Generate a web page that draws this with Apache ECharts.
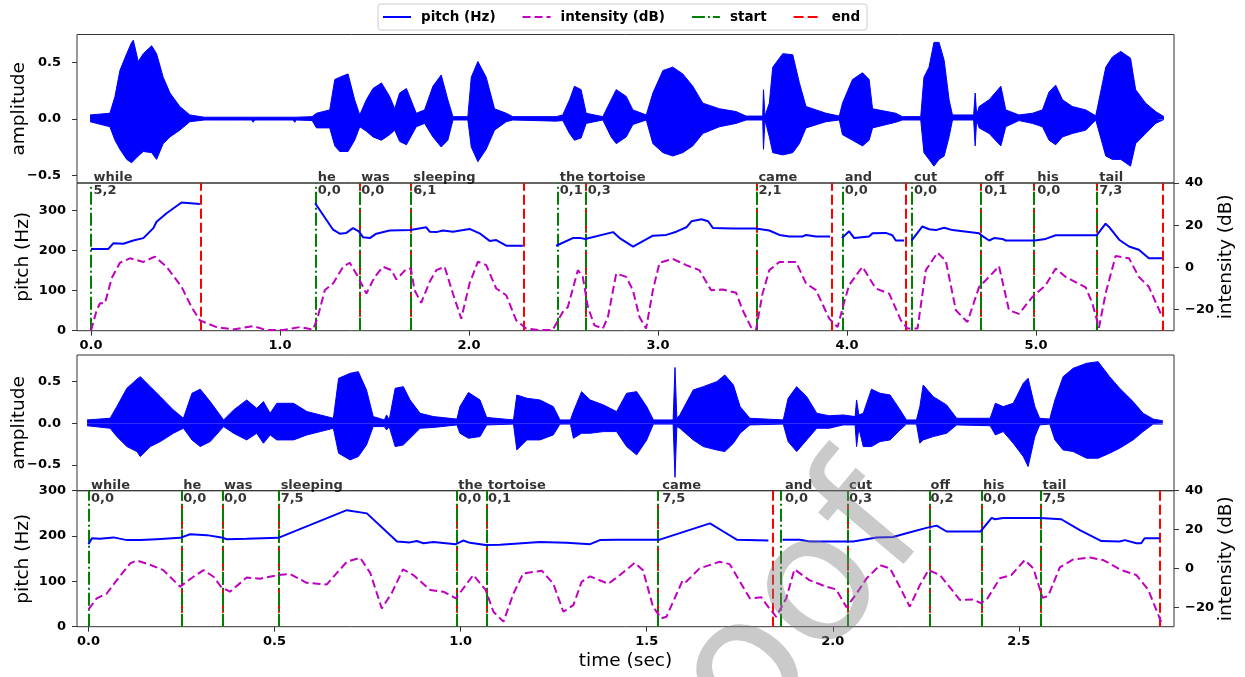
<!DOCTYPE html>
<html><head><meta charset="utf-8">
<script src="https://cdn.jsdelivr.net/npm/echarts@6/dist/echarts.min.js"></script>
<style>html,body{margin:0;padding:0;background:#fff}#c{width:1245px;height:677px}</style>
</head><body><div id="c"></div>
<script>
// ---------- DATA ----------
const words = ['while','he','was','sleeping','the','tortoise','came','and','cut','off','his','tail'];
const starts1 = [0.0,1.186,1.417,1.692,2.467,2.615,3.518,3.975,4.341,4.713,4.993,5.321];
const ends1 = [0.578,1.417,1.692,2.29,2.615,3.518,3.916,4.306,4.713,4.993,5.321,5.668];
const scores1 = ['5,2','0,0','0,0','6,1','0,1','0,3','2,1','0,0','0,0','0,1','0,0','7,3'];
const starts2 = [0.0,0.248,0.357,0.5095,0.987,1.067,1.535,1.865,2.037,2.256,2.397,2.557];
const ends2 = [0.248,0.357,0.5095,0.987,1.067,1.535,1.837,2.037,2.256,2.397,2.557,2.885];
const scores2 = ['0,0','0,0','0,0','7,5','0,0','0,1','7,5','0,0','0,3','0,2','0,0','7,5'];

const xTicks1 = [0,1,2,3,4,5];
const xTicks2 = [0,0.5,1,1.5,2,2.5];
const ampTicks = [-0.5,0,0.5];
const pitchTicks1 = [0,100,200,300];
const pitchTicks2 = [0,100,200,300];
const dbTicks = [-20,0,20,40];

// waveform envelopes [time, upper, lower]
const wave1 = [[-0.005,0.035,-0.025],[0.1,0.05,-0.07],[0.127,0.2,-0.19],[0.153,0.43,-0.27],[0.189,0.58,-0.36],[0.215,0.68,-0.39],[0.224,0.70,-0.38],[0.25,0.51,-0.33],[0.277,0.58,-0.29],[0.321,0.65,-0.30],[0.347,0.58,-0.36],[0.382,0.37,-0.22],[0.418,0.23,-0.16],[0.47,0.11,-0.10],[0.523,0.035,-0.025],[0.6,0.015,-0.01],[0.85,0.015,-0.01],[0.858,0.03,-0.03],[0.866,0.015,-0.01],[1.07,0.015,-0.01],[1.078,0.03,-0.03],[1.086,0.015,-0.01],[1.17,0.02,-0.015],[1.193,0.05,-0.08],[1.263,0.08,-0.08],[1.29,0.35,-0.24],[1.316,0.37,-0.29],[1.36,0.40,-0.29],[1.395,0.17,-0.19],[1.422,0.035,-0.07],[1.457,0.17,-0.11],[1.492,0.27,-0.16],[1.537,0.32,-0.19],[1.58,0.2,-0.14],[1.607,0.09,-0.10],[1.633,0.23,-0.2],[1.669,0.27,-0.23],[1.721,0.05,-0.07],[1.765,0.08,-0.04],[1.809,0.29,-0.16],[1.853,0.39,-0.25],[1.888,0.17,-0.19],[1.915,0.02,-0.01],[1.994,0.02,-0.01],[2.012,0.37,-0.25],[2.047,0.51,-0.38],[2.091,0.37,-0.27],[2.135,0.09,-0.10],[2.197,0.05,-0.025],[2.232,0.02,-0.01],[2.461,0.02,-0.02],[2.496,0.035,-0.015],[2.532,0.17,-0.13],[2.558,0.29,-0.19],[2.593,0.26,-0.17],[2.62,0.05,-0.04],[2.708,0.02,-0.01],[2.752,0.17,-0.16],[2.779,0.26,-0.22],[2.832,0.2,-0.16],[2.867,0.08,-0.05],[2.938,0.035,-0.01],[2.973,0.23,-0.22],[3.026,0.43,-0.30],[3.078,0.46,-0.33],[3.131,0.40,-0.30],[3.184,0.29,-0.24],[3.237,0.14,-0.13],[3.325,0.09,-0.07],[3.413,0.065,-0.04],[3.466,0.025,-0.01],[3.554,0.025,-0.01],[3.558,0.26,-0.27],[3.566,0.025,-0.01],[3.589,0.14,-0.16],[3.607,0.46,-0.30],[3.66,0.58,-0.32],[3.713,0.57,-0.30],[3.748,0.32,-0.22],[3.783,0.11,-0.08],[3.889,0.05,-0.025],[3.959,0.025,-0.01],[3.976,0.14,-0.14],[4.029,0.35,-0.19],[4.082,0.41,-0.24],[4.117,0.35,-0.19],[4.135,0.09,-0.08],[4.258,0.05,-0.03],[4.293,0.02,-0.01],[4.39,0.02,-0.01],[4.407,0.37,-0.30],[4.434,0.46,-0.36],[4.46,0.68,-0.42],[4.487,0.68,-0.36],[4.514,0.52,-0.33],[4.54,0.17,-0.16],[4.558,0.035,-0.01],[4.67,0.035,-0.01],[4.678,0.23,-0.24],[4.686,0.035,-0.01],[4.699,0.11,-0.08],[4.752,0.17,-0.13],[4.814,0.29,-0.24],[4.84,0.08,-0.07],[4.91,0.035,-0.015],[4.981,0.05,-0.04],[5.034,0.08,-0.07],[5.069,0.24,-0.19],[5.104,0.30,-0.23],[5.14,0.17,-0.16],[5.192,0.11,-0.13],[5.263,0.08,-0.10],[5.316,0.027,-0.01],[5.369,0.46,-0.33],[5.404,0.55,-0.36],[5.448,0.60,-0.36],[5.5,0.54,-0.42],[5.527,0.26,-0.22],[5.58,0.14,-0.13],[5.633,0.065,-0.04],[5.677,0.02,-0.005]];

const wave2 = [[-0.004,0.04,-0.03],[0.058,0.06,-0.06],[0.076,0.2,-0.16],[0.103,0.42,-0.28],[0.13,0.53,-0.34],[0.139,0.56,-0.40],[0.166,0.44,-0.28],[0.193,0.32,-0.22],[0.228,0.16,-0.12],[0.255,0.06,-0.06],[0.278,0.36,-0.2],[0.3,0.41,-0.28],[0.327,0.26,-0.22],[0.363,0.04,-0.04],[0.39,0.16,-0.12],[0.425,0.28,-0.2],[0.452,0.18,-0.12],[0.47,0.26,-0.24],[0.488,0.12,-0.14],[0.506,0.24,-0.2],[0.551,0.24,-0.2],[0.587,0.14,-0.14],[0.623,0.1,-0.1],[0.658,0.06,-0.06],[0.672,0.54,-0.36],[0.703,0.60,-0.44],[0.725,0.62,-0.40],[0.747,0.40,-0.26],[0.765,0.08,-0.04],[0.795,0.04,-0.04],[0.801,0.1,-0.08],[0.808,0.04,-0.04],[0.824,0.42,-0.28],[0.846,0.44,-0.26],[0.864,0.28,-0.18],[0.891,0.12,-0.06],[0.927,0.08,-0.05],[0.99,0.05,-0.02],[0.998,0.2,-0.12],[1.021,0.37,-0.18],[1.052,0.28,-0.16],[1.07,0.07,-0.02],[1.142,0.04,-0.01],[1.151,0.34,-0.32],[1.178,0.30,-0.2],[1.213,0.28,-0.2],[1.249,0.2,-0.14],[1.267,0.04,-0.01],[1.295,0.04,-0.01],[1.303,0.14,-0.18],[1.325,0.38,-0.12],[1.348,0.28,-0.12],[1.384,0.22,-0.1],[1.419,0.14,-0.1],[1.446,0.36,-0.28],[1.473,0.38,-0.38],[1.5,0.2,-0.2],[1.518,0.04,-0.01],[1.571,0.04,-0.01],[1.576,0.67,-0.65],[1.581,0.06,-0.04],[1.589,0.1,-0.06],[1.625,0.40,-0.2],[1.652,0.44,-0.28],[1.688,0.50,-0.32],[1.71,0.58,-0.34],[1.733,0.46,-0.24],[1.751,0.2,-0.12],[1.777,0.06,-0.02],[1.867,0.04,-0.01],[1.88,0.30,-0.22],[1.903,0.44,-0.34],[1.93,0.32,-0.2],[1.957,0.12,-0.06],[1.99,0.09,-0.06],[2.028,0.1,-0.02],[2.06,0.08,-0.02],[2.064,0.28,-0.28],[2.07,0.1,-0.06],[2.082,0.12,-0.28],[2.104,0.41,-0.28],[2.127,0.36,-0.22],[2.154,0.34,-0.2],[2.181,0.16,-0.08],[2.198,0.04,-0.01],[2.225,0.04,-0.01],[2.234,0.2,-0.24],[2.243,0.46,-0.2],[2.27,0.32,-0.16],[2.306,0.22,-0.12],[2.333,0.06,-0.02],[2.423,0.06,-0.03],[2.437,0.24,-0.14],[2.458,0.2,-0.1],[2.485,0.24,-0.24],[2.512,0.48,-0.40],[2.525,0.54,-0.52],[2.543,0.2,-0.16],[2.556,0.06,-0.02],[2.583,0.05,-0.01],[2.597,0.28,-0.2],[2.619,0.56,-0.32],[2.646,0.66,-0.34],[2.682,0.72,-0.42],[2.713,0.74,-0.42],[2.744,0.56,-0.36],[2.771,0.42,-0.3],[2.807,0.26,-0.2],[2.834,0.12,-0.1],[2.861,0.05,-0.01],[2.887,0.03,-0.01]];

const pitch1 = [[0,204],[0.092,204],[0.118,218],[0.171,217],[0.224,225],[0.277,231],[0.33,256],[0.347,272],[0.40,293],[0.479,320],[0.576,316],[0.58,null],
[1.186,318],[1.281,252],[1.316,242],[1.351,244],[1.386,256],[1.417,248],[1.44,233],[1.475,231],[1.51,242],[1.58,250],[1.69,251],[1.774,258],[1.792,247],[1.827,246],[1.862,250],[1.915,247],[2.003,254],[2.056,243],[2.109,224],[2.144,226],[2.197,212],[2.285,212],[2.3,null],
[2.461,212],[2.549,231],[2.593,231],[2.615,229],[2.762,246],[2.797,231],[2.868,210],[2.973,237],[3.044,239],[3.097,247],[3.15,258],[3.177,273],[3.23,278],[3.265,273],[3.291,256],[3.397,255],[3.518,255],[3.589,250],[3.642,239],[3.695,235],[3.765,235],[3.783,239],[3.836,235],[3.911,235],[3.94,null],
[3.973,231],[4.011,248],[4.038,231],[4.117,235],[4.135,243],[4.205,244],[4.24,238],[4.258,225],[4.302,225],[4.32,null],
[4.341,225],[4.399,260],[4.434,253],[4.47,251],[4.514,257],[4.558,251],[4.699,243],[4.713,237],[4.752,225],[4.778,231],[4.822,229],[4.84,225],[4.993,225],[5.051,229],[5.104,238],[5.157,238],[5.321,238],[5.368,267],[5.386,259],[5.44,227],[5.492,210],[5.544,202],[5.597,181],[5.668,181]];

const intensity1 = [[0,-30],[0.03,-20.3],[0.048,-17],[0.074,-17],[0.109,-5.2],[0.153,2.2],[0.206,4.3],[0.277,2.6],[0.338,5.1],[0.4,0.3],[0.479,-9.2],[0.532,-18.8],[0.576,-25.1],[0.664,-28.3],[0.752,-29.4],[0.858,-27.8],[0.928,-29.7],[1.016,-29.7],[1.104,-28.3],[1.175,-29.4],[1.2,-23.5],[1.237,-10.8],[1.281,-7.6],[1.334,0.3],[1.369,2.2],[1.413,-4.5],[1.457,-12.4],[1.501,-4.5],[1.545,0.3],[1.589,-1.3],[1.616,-5.7],[1.669,-0.7],[1.692,-0.5],[1.712,-10.8],[1.747,-16.8],[1.792,-6.8],[1.827,-1.3],[1.871,0.3],[1.915,-12.4],[1.959,-24.3],[2.003,-7.6],[2.047,2.7],[2.091,1.1],[2.144,-10],[2.197,-13.2],[2.25,-25.1],[2.303,-29],[2.373,-29.7],[2.443,-29.7],[2.496,-21.1],[2.523,-18.8],[2.576,-1.3],[2.602,-4.5],[2.629,-18.8],[2.664,-27.5],[2.708,-29],[2.735,-23.5],[2.779,-2.9],[2.832,-4.5],[2.867,-10.8],[2.902,-23.5],[2.937,-29],[2.973,-10.8],[3.008,2.2],[3.078,4],[3.149,1.1],[3.219,-1.3],[3.281,-10.8],[3.342,-10.5],[3.413,-12],[3.448,-20.3],[3.492,-28.3],[3.518,-29.8],[3.553,-12.4],[3.589,-1.3],[3.642,2.6],[3.73,2.6],[3.783,-7.6],[3.836,-10.8],[3.906,-24.3],[3.95,-28.3],[3.985,-16.5],[4.011,-8.4],[4.082,0.3],[4.152,-10],[4.223,-12.4],[4.285,-25.1],[4.32,-29],[4.373,-29],[4.417,-1.3],[4.479,7],[4.523,3],[4.576,-20.3],[4.637,-25.9],[4.699,-9.2],[4.752,-4.5],[4.804,0.6],[4.857,-20.3],[4.91,-22],[4.981,-14],[5.051,-8.4],[5.104,-0.5],[5.157,-4.5],[5.263,-9.5],[5.298,-17],[5.333,-28.6],[5.368,-12.4],[5.421,5.4],[5.492,4.3],[5.544,-4.5],[5.597,-9.2],[5.668,-23.5]];

const pitch2 = [[0,182],[0.009,195],[0.031,194],[0.067,197],[0.103,191],[0.139,191],[0.183,193],[0.246,196],[0.273,204],[0.318,202],[0.357,197],[0.372,193],[0.425,194],[0.51,196],[0.694,257],[0.748,250],[0.829,188],[0.864,186],[0.882,189],[0.9,184],[0.927,187],[0.987,182],[1.007,190],[1.025,185],[1.067,180],[1.106,181],[1.213,187],[1.285,185],[1.348,182],[1.374,191],[1.419,192],[1.535,192],[1.67,228],[1.706,210],[1.742,192],[1.827,190],[1.845,null],[1.865,192],[1.912,192],[1.938,188],[2.001,188],[2.055,188],[2.118,197],[2.162,198],[2.198,206],[2.252,218],[2.279,223],[2.306,210],[2.397,210],[2.427,240],[2.436,237],[2.458,240],[2.557,240],[2.614,237],[2.664,213],[2.722,189],[2.771,188],[2.785,191],[2.816,184],[2.829,184],[2.838,195],[2.879,195]];

const intensity2 = [[0,-21.1],[0.022,-15.4],[0.049,-12.9],[0.076,-6],[0.112,2.6],[0.13,4.1],[0.165,1.9],[0.201,-0.9],[0.246,-9.4],[0.282,-4.3],[0.309,-0.9],[0.336,-4.3],[0.357,-9.7],[0.38,-12],[0.425,-4.7],[0.461,-5.3],[0.51,-3.4],[0.542,-2.9],[0.586,-7.4],[0.64,-8.3],[0.694,3.4],[0.73,5.5],[0.757,-2.3],[0.788,-20.6],[0.815,-12.6],[0.845,-0.5],[0.873,-3.4],[0.918,-11.1],[0.954,-12],[0.987,-15.4],[1.034,-3.4],[1.067,-11.1],[1.088,-22.3],[1.115,-27.4],[1.142,-12.9],[1.168,-2.6],[1.218,-1.2],[1.249,-7.9],[1.276,-22.3],[1.303,-18.9],[1.325,-6.9],[1.348,-4.1],[1.397,-7.9],[1.428,-3.4],[1.468,2.9],[1.49,-1],[1.517,-19.7],[1.539,-25.7],[1.553,-24.9],[1.579,-13.7],[1.597,-6],[1.606,-6.9],[1.642,0],[1.696,3.4],[1.723,2.2],[1.777,-15.4],[1.808,-14.9],[1.826,-19.7],[1.848,-24.9],[1.875,-15.4],[1.897,-0.5],[1.937,-6],[1.982,-9.4],[2.009,-10.8],[2.037,-20],[2.064,-12.9],[2.091,-5.1],[2.127,1.7],[2.154,0],[2.181,-9.9],[2.207,-19.7],[2.234,-8.6],[2.257,-0.9],[2.288,-3.4],[2.342,-16.3],[2.378,-16],[2.397,-17.8],[2.413,-16.3],[2.449,-5.1],[2.48,-3.4],[2.516,4.3],[2.539,0],[2.564,-15.1],[2.579,-14.2],[2.61,0.5],[2.646,4.6],[2.691,5.6],[2.727,4.3],[2.776,-0.9],[2.816,-3.4],[2.848,-11.1],[2.884,-28.3]];

// ---------- CHART ----------
const FONT = 'DejaVu Sans';
const AX = '#333';
const tickFont = {fontFamily: FONT, fontWeight: 'bold', fontSize: 13, color: '#000'};
const nameFont = {fontFamily: FONT, fontWeight: 'normal', fontSize: 18.5, color: '#000'};
const fmt1 = v => Number(v).toFixed(1).replace('-', '\u2212');
const fmt0 = v => String(Math.round(v)).replace('-', '\u2212');

const X1 = [-0.074, 5.73], X2 = [-0.031, 2.917];
const P1MAX = 368.5, P2MAX = 300;

const grids = [
  {left: 77, width: 1097, top: 34.5, height: 148.5},
  {left: 77, width: 1097, top: 183, height: 147.7},
  {left: 77, width: 1097, top: 355, height: 135.7},
  {left: 77, width: 1097, top: 490.7, height: 136}
].map(g => Object.assign(g, {show: true, borderColor: AX, borderWidth: 1, backgroundColor: 'transparent',
  containLabel: false, outerBoundsMode: 'none'}));

function xAx(gi, range, ticks, show, extra) {
  return Object.assign({
    type: 'value', gridIndex: gi, min: range[0], max: range[1], position: 'bottom',
    axisLine: {show: false, onZero: false}, splitLine: {show: false},
    axisTick: {show: show, inside: false, length: 5, lineStyle: {color: AX}, customValues: ticks},
    axisLabel: Object.assign({show: show, customValues: ticks, formatter: fmt1, margin: 8, hideOverlap: false}, tickFont)
  }, extra || {});
}
function yAx(gi, min, max, ticks, pos, fmt, name, gap, margin) {
  return {
    type: 'value', gridIndex: gi, min: min, max: max, position: pos,
    axisLine: {show: false, onZero: false}, splitLine: {show: false},
    axisTick: {show: true, inside: false, length: 5, lineStyle: {color: AX}, customValues: ticks},
    axisLabel: Object.assign({customValues: ticks, formatter: fmt, margin: margin, hideOverlap: false}, tickFont),
    name: name, nameLocation: 'middle', nameGap: gap, nameRotate: 90, nameMoveOverlap: false, nameTextStyle: nameFont
  };
}

const dashInt = [8, 4], dashEnd = [10, 4], dashStart = [13, 3, 2, 3];

function waveSeries(wave, xi, yi) {
  const mk = (name, idx) => ({name: name, type: 'line', xAxisIndex: xi, yAxisIndex: yi, symbol: 'none', silent: true,
    lineStyle: {color: '#0000ff', width: 1}, areaStyle: {color: '#0000ff', opacity: 1, origin: 0}, z: 2,
    data: wave.map(d => [d[0], d[idx]])});
  return [mk('wave-up', 1), mk('wave-down', 2)];
}
function vlineSeries(name, times, xi, yi, color, dash, z) {
  return {name: name, type: 'line', xAxisIndex: xi, yAxisIndex: yi, data: [], symbol: 'none', showSymbol: false, z: z,
    lineStyle: {color: color, width: 2, type: dash}, itemStyle: {color: color},
    markLine: {symbol: ['none', 'none'], silent: true, animation: false, label: {show: false},
      lineStyle: {color: color, width: 2, type: dash}, emphasis: {disabled: true},
      data: times.map(t => ({xAxis: t}))}};
}
function labelSeries(texts, times, xi, yi, ytop, above, dy) {
  return {name: above ? 'words' : 'scores', type: 'scatter', xAxisIndex: xi, yAxisIndex: yi, silent: true, clip: false,
    symbol: 'circle', symbolSize: 1, itemStyle: {color: 'rgba(0,0,0,0)'}, z: 10,
    data: times.map((t, i) => [t, ytop, texts[i]]),
    label: Object.assign({show: true, position: [3, dy], align: 'left', verticalAlign: above ? 'bottom' : 'top', lineHeight: 15,
      formatter: p => p.data[2]}, tickFont)};
}
function panelSeries(pitch, inten, starts, ends, scores, xi, yp, yi, ytop, dyW, dyS) {
  return [
    vlineSeries('end', ends, xi, yp, '#ff0000', dashEnd, 3),
    vlineSeries('start', starts, xi, yp, '#008000', dashStart, 4),
    {name: 'pitch (Hz)', type: 'line', xAxisIndex: xi, yAxisIndex: yp, data: pitch, symbol: 'none', showSymbol: false, connectNulls: false,
      lineStyle: {color: '#0000ff', width: 2}, itemStyle: {color: '#0000ff'}, z: 5},
    {name: 'intensity (dB)', type: 'line', xAxisIndex: xi, yAxisIndex: yi, data: inten, symbol: 'none', showSymbol: false,
      lineStyle: {color: '#bf00bf', width: 2, type: dashInt}, itemStyle: {color: '#bf00bf'}, z: 5},
    labelSeries(words, starts, xi, yp, ytop, true, dyW),
    labelSeries(scores, starts, xi, yp, ytop, false, dyS)
  ];
}

const option = {
  animation: false,
  backgroundColor: '#fff',
  legend: {data: ['pitch (Hz)', 'intensity (dB)', 'start', 'end'], left: 378, top: 4,
    itemWidth: 28, itemHeight: 14, itemGap: 26, padding: [6, 7, 6, 4],
    itemStyle: {opacity: 0, borderWidth: 0},
    borderColor: '#cccccc', borderWidth: 1, borderRadius: 3, backgroundColor: '#fff', selectedMode: false,
    textStyle: {fontFamily: FONT, fontWeight: 'bold', fontSize: 13.5, color: '#000', padding: [0, 0, 0, 5]}},
  grid: grids,
  xAxis: [
    xAx(0, X1, xTicks1, false),
    xAx(1, X1, xTicks1, true),
    xAx(2, X2, xTicks2, false),
    xAx(3, X2, xTicks2, true, {name: 'time (sec)', nameLocation: 'middle', nameGap: 25, nameMoveOverlap: false, nameTextStyle: nameFont})
  ],
  yAxis: [
    yAx(0, -0.57, 0.75, ampTicks, 'left', fmt1, 'amplitude', 48, 16),
    yAx(1, 0, P1MAX, pitchTicks1, 'left', fmt0, 'pitch (Hz)', 44, 11),
    yAx(1, -30, 40, dbTicks, 'right', fmt0, 'intensity (dB)', 43, 11),
    yAx(2, -0.81, 0.82, ampTicks, 'left', fmt1, 'amplitude', 48, 16),
    yAx(3, 0, P2MAX, pitchTicks2, 'left', fmt0, 'pitch (Hz)', 44, 11),
    yAx(3, -30, 40, dbTicks, 'right', fmt0, 'intensity (dB)', 43, 11)
  ],
  graphic: [{type: 'text', x: 670, y: 910, rotation: 0.873, silent: true, z: 100,
    style: {text: 'Proof', font: '180px "DejaVu Sans"', fill: 'rgba(128,128,128,0.42)', textVerticalAlign: 'bottom'}}],
  series: [].concat(
    waveSeries(wave1, 0, 0),
    panelSeries(pitch1, intensity1, starts1, ends1, scores1, 1, 1, 2, P1MAX, 3, 0.5),
    waveSeries(wave2, 2, 3),
    panelSeries(pitch2, intensity2, starts2, ends2, scores2, 3, 4, 5, P2MAX, 3, 1)
  )
};
const chart = echarts.init(document.getElementById('c'), null, {renderer: 'canvas'});
chart.setOption(option);
</script></body></html>
